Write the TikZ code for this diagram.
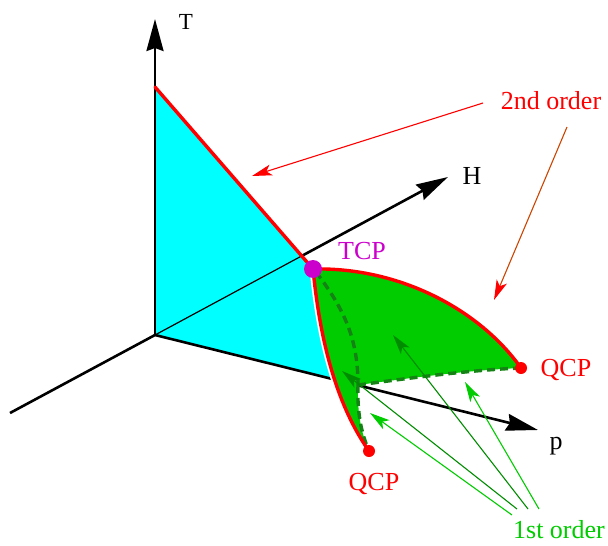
\documentclass[tikz,border=0pt]{standalone}
\usepackage{fontspec}
\setmainfont{Liberation Serif}
\usetikzlibrary{arrows.meta}
\definecolor{cyanf}{RGB}{0,255,255}
\definecolor{greenf}{RGB}{0,204,0}
\definecolor{dkgreen}{RGB}{0,140,0}
\definecolor{dashgreen}{RGB}{20,130,20}
\definecolor{magentaf}{RGB}{204,0,204}
\definecolor{brownr}{RGB}{204,68,0}
\begin{document}
\begin{tikzpicture}[x=1pt,y=-1pt,
  axisline/.style={line width=2.6pt},
  axisarrow/.style={line width=2.6pt,-{Stealth[length=32pt,width=17pt,inset=3pt]}},
  thinaxis/.style={line width=1.2pt},
  redline/.style={red,line width=3.4pt,line cap=round},
  dashline/.style={dashgreen,line width=3.4pt,dash pattern=on 8pt off 5pt},
  lbl/.style={font=\fontsize{26}{30}\selectfont,inner sep=0pt},
  smallarrow/.style={line width=1.1pt,-{Stealth[length=20pt,width=11pt,inset=5pt]}},
]
\useasboundingbox (0,0) rectangle (608,546);
% coordinates
\coordinate (O) at (155,335);
\coordinate (Ttip) at (155,19);
\coordinate (Tint) at (155,87);
\coordinate (TCP) at (313,269);
\coordinate (Hend) at (10,413);
\coordinate (Htip) at (448,177);
\coordinate (Hx) at (301.6,256);
\coordinate (ptip) at (538,430);
\coordinate (pc) at (335,379.6);
\coordinate (QR) at (521,368);
\coordinate (QL) at (369,451);
\coordinate (corner) at (358,385);
% cyan face
\fill[cyanf] (Tint) -- (O) -- (pc) -- (TCP) -- cycle;
% axes
\draw[axisarrow] (O) -- (Ttip);
\draw[axisline] (Hend) -- (O);
\draw[thinaxis] (O) -- (Hx);
\draw[axisarrow] (Hx) -- (Htip);
\draw[axisarrow] (O) -- (ptip);
% white edge of left red curve
\draw[white,line width=7pt] (TCP) .. controls (319,330) and (333,400) .. (QL);
% green surface
\fill[greenf] (TCP) .. controls (400,267) and (480,310) .. (QR)
  .. controls (470,370) and (410,378) .. (corner)
  .. controls (357,415) and (362,435) .. (QL)
  .. controls (333,400) and (319,330) .. (TCP) -- cycle;
% dashed lines
\draw[dashline] (QR) .. controls (470,370) and (410,378) .. (corner);
\draw[dashline] (corner) .. controls (357,415) and (362,435) .. (QL);
\draw[dashline] (316,272) .. controls (345,310) and (358,340) .. (corner);
% red lines
\draw[redline] (Tint) -- (TCP);
\draw[redline] (TCP) .. controls (319,330) and (333,400) .. (QL);
\draw[redline] (TCP) .. controls (400,267) and (480,310) .. (QR);
% dots
\fill[magentaf] (TCP) circle (9);
\fill[red] (QR) circle (6);
\fill[red] (QL) circle (6);
% labels
\node[lbl,font=\fontsize{23}{28}\selectfont] (Tlab) at (186,22) {T};
\node[lbl] (Hlab) at (472,176) {H};
\node[lbl] (plab) at (556,446) {p};
\node[lbl,text=magentaf] (TCPlab) at (362,251) {TCP};
\node[lbl,text=red] (QRlab) at (566,370) {QCP};
\node[lbl,text=red] (QLlab) at (374,484) {QCP};
\node[lbl,text=red] (second) at (551,101) {2nd order};
\node[lbl,text=greenf] (first) at (559,530) {1st order};
% 2nd order arrows
\coordinate (r1s) at (483,103);
\coordinate (r1e) at (252,176);
\coordinate (r2s) at (567,127);
\coordinate (r2e) at (494,300);
\draw[smallarrow,red] (r1s) -- (r1e);
\draw[line width=1.1pt,brownr,-{Stealth[length=20pt,width=11pt,inset=5pt,red]}] (r2s) -- (r2e);
% 1st order arrows
\coordinate (g1s) at (512,515);
\coordinate (g1e) at (370,413);
\coordinate (g2s) at (517,509);
\coordinate (g2e) at (342,371);
\coordinate (g3s) at (528,509);
\coordinate (g3e) at (393,335);
\coordinate (g4s) at (539,509);
\coordinate (g4e) at (465,382);
\draw[smallarrow,greenf] (g1s) -- (g1e);
\draw[smallarrow,dkgreen] (g2s) -- (g2e);
\draw[smallarrow,dkgreen] (g3s) -- (g3e);
\draw[smallarrow,greenf] (g4s) -- (g4e);
\end{tikzpicture}
\end{document}
